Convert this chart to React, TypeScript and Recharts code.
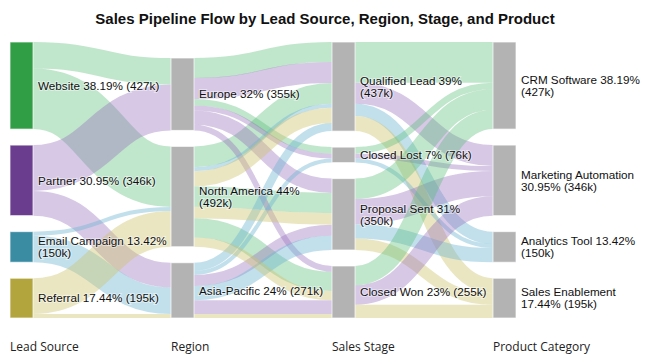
import React from 'react';
import { Sankey } from 'recharts';

// ---------- data ----------
const leadSources = ['Website', 'Partner', 'Email Campaign', 'Referral'];
const regions = ['Europe', 'North America', 'Asia-Pacific'];
const stages = ['Qualified Lead', 'Closed Lost', 'Proposal Sent', 'Closed Won'];
const products = ['CRM Software', 'Marketing Automation', 'Analytics Tool', 'Sales Enablement'];
const columnTitles = ['Lead Source', 'Region', 'Sales Stage', 'Product Category'];
const percentDecimals = [2, 0, 0, 2];

// [from, to, leadSource, value in k]
const sourceToRegion: [string, string, string, number][] = [
  ['Website', 'Europe', 'Website', 130],
  ['Website', 'North America', 'Website', 297],
  ['Partner', 'Europe', 'Partner', 225],
  ['Partner', 'Asia-Pacific', 'Partner', 121],
  ['Email Campaign', 'North America', 'Email Campaign', 20],
  ['Email Campaign', 'Asia-Pacific', 'Email Campaign', 130],
  ['Referral', 'North America', 'Referral', 175],
  ['Referral', 'Asia-Pacific', 'Referral', 20],
];

const regionToStage: [string, string, string, number][] = [
  ['Europe', 'Qualified Lead', 'Website', 98],
  ['Europe', 'Closed Lost', 'Website', 32],
  ['North America', 'Qualified Lead', 'Website', 102],
  ['North America', 'Proposal Sent', 'Website', 100],
  ['North America', 'Closed Won', 'Website', 95],
  ['Europe', 'Qualified Lead', 'Partner', 103],
  ['Europe', 'Closed Lost', 'Partner', 24],
  ['Europe', 'Proposal Sent', 'Partner', 70],
  ['Europe', 'Closed Won', 'Partner', 28],
  ['Asia-Pacific', 'Proposal Sent', 'Partner', 54],
  ['Asia-Pacific', 'Closed Won', 'Partner', 67],
  ['North America', 'Qualified Lead', 'Email Campaign', 20],
  ['Asia-Pacific', 'Qualified Lead', 'Email Campaign', 40],
  ['Asia-Pacific', 'Closed Lost', 'Email Campaign', 20],
  ['Asia-Pacific', 'Proposal Sent', 'Email Campaign', 70],
  ['North America', 'Qualified Lead', 'Referral', 74],
  ['North America', 'Proposal Sent', 'Referral', 56],
  ['North America', 'Closed Won', 'Referral', 45],
  ['Asia-Pacific', 'Closed Won', 'Referral', 20],
];

const stageToProduct: [string, string, string, number][] = [
  ['Qualified Lead', 'CRM Software', 'Website', 200],
  ['Qualified Lead', 'Marketing Automation', 'Partner', 103],
  ['Qualified Lead', 'Analytics Tool', 'Email Campaign', 60],
  ['Qualified Lead', 'Sales Enablement', 'Referral', 74],
  ['Closed Lost', 'CRM Software', 'Website', 32],
  ['Closed Lost', 'Marketing Automation', 'Partner', 24],
  ['Closed Lost', 'Analytics Tool', 'Email Campaign', 20],
  ['Proposal Sent', 'CRM Software', 'Website', 100],
  ['Proposal Sent', 'Marketing Automation', 'Partner', 124],
  ['Proposal Sent', 'Analytics Tool', 'Email Campaign', 70],
  ['Proposal Sent', 'Sales Enablement', 'Referral', 56],
  ['Closed Won', 'CRM Software', 'Website', 95],
  ['Closed Won', 'Marketing Automation', 'Partner', 95],
  ['Closed Won', 'Sales Enablement', 'Referral', 65],
];

// ---------- styles ----------
const nodeColors: Record<string, string> = {
  Website: '#2f9e44',
  Partner: '#6a3d8f',
  'Email Campaign': '#3a8ca3',
  Referral: '#b3a53e',
};
const linkColors: Record<string, string> = {
  Website: 'rgba(90,190,120,0.38)',
  Partner: 'rgba(150,110,190,0.38)',
  'Email Campaign': 'rgba(110,180,210,0.42)',
  Referral: 'rgba(205,195,110,0.42)',
};
const GRAY = '#b3b3b3';
const LABEL_FONT = "'Liberation Sans', Arial, sans-serif";
const LABEL_SIZE = 11.7;
const WRAP = 132;

const W = 650;
const H = 364;
const margin = { top: 42, left: 10, right: 134, bottom: 46 };
const NODE_W = 23;

// ---------- build ----------
const columns = [leadSources, regions, stages, products];
const nodes = columns.flatMap((col) => col.map((name) => ({ name })));
const colOf = (name: string) => columns.findIndex((c) => c.includes(name));
const indexOf = (name: string) => nodes.findIndex((n) => n.name === name);
const allLinks = [...sourceToRegion, ...regionToStage, ...stageToProduct].map(([f, t, src, v]) => ({
  source: indexOf(f),
  target: indexOf(t),
  value: v,
  lead: src,
}));
const total = sourceToRegion.reduce((s, l) => s + l[3], 0);

let ctx: CanvasRenderingContext2D | null = null;
function measure(s: string) {
  if (!ctx) ctx = document.createElement('canvas').getContext('2d');
  if (!ctx) return s.length * 6;
  ctx.font = `${LABEL_SIZE}px ${LABEL_FONT}`;
  return ctx.measureText(s).width;
}
function wrap(text: string, max: number) {
  const words = text.split(' ');
  const lines: string[] = [];
  let cur = '';
  for (const w of words) {
    const t = cur ? cur + ' ' + w : w;
    if (cur && measure(t) > max) {
      lines.push(cur);
      cur = w;
    } else cur = t;
  }
  if (cur) lines.push(cur);
  return lines;
}

function NodeShape(props: any) {
  const { x, y, width, height, payload } = props;
  const col = colOf(payload.name);
  const fill = col === 0 ? nodeColors[payload.name] : GRAY;
  const pct = ((payload.value / total) * 100).toFixed(percentDecimals[col]);
  const lines = wrap(`${payload.name} ${pct}% (${payload.value}k)`, WRAP);
  const lh = 12;
  const cy = y + height / 2;
  const y0 = cy - ((lines.length - 1) * lh) / 2;
  return (
    <g>
      <rect x={x} y={y} width={width} height={height} fill={fill} stroke="#ffffff" strokeOpacity={0.7} strokeWidth={1} />
      <text
        fontFamily={LABEL_FONT}
        fontSize={LABEL_SIZE}
        fill="#111"
        stroke="#ffffff"
        strokeWidth={2}
        strokeOpacity={0.45}
        style={{ paintOrder: 'stroke' }}
      >
        {lines.map((l, i) => (
          <tspan key={i} x={x + width + 5} y={y0 + i * lh} dy="0.36em">
            {l}
          </tspan>
        ))}
      </text>
    </g>
  );
}

function LinkShape(props: any) {
  const { sourceX, sourceY, sourceControlX, targetX, targetY, targetControlX, linkWidth, payload } = props;
  return (
    <path
      d={`M${sourceX},${sourceY} C${sourceControlX},${sourceY} ${targetControlX},${targetY} ${targetX},${targetY}`}
      fill="none"
      stroke={linkColors[payload.lead]}
      strokeWidth={Math.max(linkWidth, 1)}
    />
  );
}

export default function App() {
  const innerW = W - margin.left - margin.right;
  const step = (innerW - NODE_W) / 3;
  return (
    <div style={{ position: 'relative', width: W, height: H, margin: -8, background: '#fff' }}>
      <Sankey
        width={W}
        height={H}
        data={{ nodes, links: allLinks }}
        margin={margin}
        nodeWidth={NODE_W}
        nodePadding={16}
        iterations={32}
        sort={false}
        linkCurvature={0.5}
        node={<NodeShape />}
        link={<LinkShape />}
      />
      <svg width={W} height={H} style={{ position: 'absolute', left: 0, top: 0, pointerEvents: 'none' }}>
        <text x={W / 2} y={24} textAnchor="middle" fontFamily={LABEL_FONT} fontWeight="bold" fontSize={15} fill="#111">
          Sales Pipeline Flow by Lead Source, Region, Stage, and Product
        </text>
        {columnTitles.map((t, i) => (
          <text key={t} x={margin.left + i * step} y={351} fontFamily="'Open Sans', sans-serif" fontSize={12} fill="#222">
            {t}
          </text>
        ))}
      </svg>
    </div>
  );
}
